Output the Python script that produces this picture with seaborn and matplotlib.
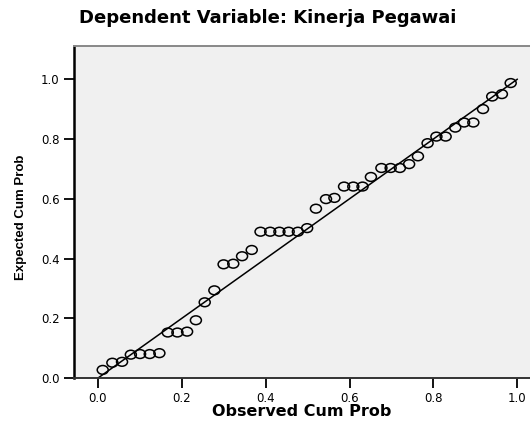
import numpy as np
import pandas as pd
import seaborn as sns
import matplotlib.pyplot as plt
from matplotlib.markers import MarkerStyle
from matplotlib.transforms import Affine2D

# P-P plot values
observed = [0.012, 0.035, 0.058, 0.079, 0.101, 0.124, 0.147, 0.167, 0.190, 0.213,
            0.234, 0.255, 0.278, 0.300, 0.323, 0.344, 0.367, 0.388, 0.411, 0.433,
            0.455, 0.477, 0.499, 0.520, 0.544, 0.564, 0.587, 0.609, 0.631, 0.651,
            0.676, 0.698, 0.720, 0.742, 0.763, 0.786, 0.807, 0.829, 0.852, 0.873,
            0.895, 0.918, 0.940, 0.963, 0.984]
expected = [0.028, 0.052, 0.055, 0.079, 0.081, 0.081, 0.084, 0.153, 0.153, 0.156,
            0.194, 0.254, 0.294, 0.381, 0.383, 0.408, 0.429, 0.490, 0.490, 0.490,
            0.490, 0.490, 0.502, 0.567, 0.599, 0.603, 0.641, 0.641, 0.641, 0.673,
            0.703, 0.703, 0.703, 0.716, 0.742, 0.786, 0.808, 0.808, 0.838, 0.855,
            0.855, 0.900, 0.942, 0.950, 0.987]
diag = [0.0, 1.0]
ticks = [0.0, 0.2, 0.4, 0.6, 0.8, 1.0]
tick_labels = ['0.0', '0.2', '0.4', '0.6', '0.8', '1.0']

data = pd.DataFrame({'Observed': observed, 'Expected': expected})

sns.set_style('white')
plt.rcParams['font.family'] = ['DejaVu Sans']
plt.rcParams['text.color'] = 'black'
plt.rcParams['axes.labelcolor'] = 'black'
plt.rcParams['xtick.color'] = 'black'
plt.rcParams['ytick.color'] = 'black'

fig = plt.figure(figsize=(5.3, 4.22), dpi=100)
ax = fig.add_axes([0.1387, 0.1036, 0.8613, 0.7875])
ax.set_facecolor('#f0f0f0')

sns.lineplot(x=diag, y=diag, ax=ax, color='black', linewidth=1.1)
circle = MarkerStyle('o', transform=Affine2D().scale(1.25, 1.0))
sns.scatterplot(data=data, x='Observed', y='Expected', ax=ax, marker=circle,
                s=40, facecolor='none', edgecolor='black', linewidth=1.1, zorder=3)

ax.set_xlim(-0.0576, 1.03)
ax.set_ylim(0, 1.111)
ax.set_xticks(ticks)
ax.set_xticklabels(tick_labels)
ax.set_yticks(ticks)
ax.set_yticklabels(tick_labels)
ax.tick_params(axis='both', direction='out', length=7, width=1.3, color='black',
               labelsize=8.5, pad=3, bottom=True, left=True)

ax.spines['left'].set_color('black')
ax.spines['left'].set_linewidth(1.8)
ax.spines['bottom'].set_color('#333333')
ax.spines['bottom'].set_linewidth(1.4)
ax.spines['top'].set_color('#888888')
ax.spines['top'].set_linewidth(1.4)
ax.spines['right'].set_visible(False)

ax.set_xlabel('Observed Cum Prob', fontsize=11.5, fontweight='bold')
ax.xaxis.label.set_va('baseline')
ax.xaxis.set_label_coords(0.5, -0.114)
ax.set_ylabel('Expected Cum Prob', fontsize=9.5, fontweight='bold',
              family=['Liberation Sans'])
ax.yaxis.label.set_va('center')
ax.yaxis.set_label_coords(-0.116, 0.484)

fig.text(0.506, 0.946, 'Dependent Variable: Kinerja Pegawai', ha='center', va='baseline',
         fontsize=13, fontweight='bold')

fig.savefig('out.png', dpi=100)
